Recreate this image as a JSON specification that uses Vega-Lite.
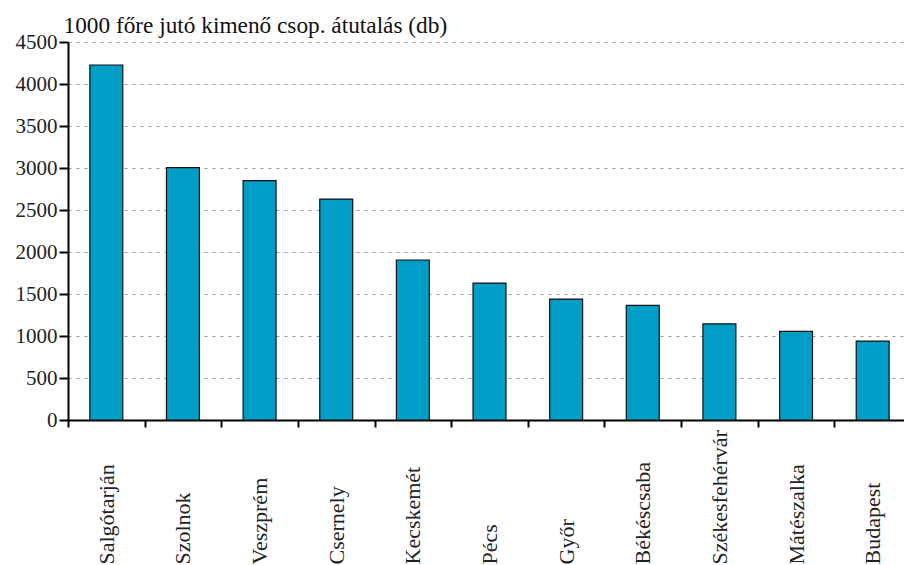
{
  "$schema": "https://vega.github.io/schema/vega-lite/v6.json",
  "width": 843,
  "height": 378,
  "autosize": {"type": "none"},
  "padding": {"left": 68, "top": 42, "right": 0, "bottom": 145},
  "background": "white",
  "config": {
    "view": {"stroke": null},
    "font": "Liberation Serif",
    "axis": {"labelFont": "Liberation Serif", "titleFont": "Liberation Serif"}
  },
  "data": {
    "values": [
      {"city": "Salgótarján", "value": 4226},
      {"city": "Szolnok", "value": 3005},
      {"city": "Veszprém", "value": 2850},
      {"city": "Csernely", "value": 2630},
      {"city": "Kecskemét", "value": 1905},
      {"city": "Pécs", "value": 1630},
      {"city": "Győr", "value": 1440},
      {"city": "Békéscsaba", "value": 1365},
      {"city": "Székesfehérvár", "value": 1145},
      {"city": "Mátészalka", "value": 1055},
      {"city": "Budapest", "value": 940}
    ]
  },
  "mark": {"type": "bar", "width": {"band": 0.43}, "fill": "#009ec6", "stroke": "#111111", "strokeWidth": 1.2},
  "encoding": {
    "x": {
      "field": "city",
      "type": "nominal",
      "sort": null,
      "scale": {"paddingInner": 0, "paddingOuter": 0},
      "axis": {
        "title": null,
        "labelAngle": -90,
        "labelAlign": "left",
        "labelBaseline": "middle",
        "labelPadding": 137,
        "labelOverlap": false,
        "tickBand": "extent",
        "tickSize": 7,
        "tickWidth": 2,
        "tickColor": "black",
        "domainColor": "black",
        "domainWidth": 2,
        "labelFont": "Liberation Serif",
        "labelFontSize": 22,
        "labelColor": "#222222"
      }
    },
    "y": {
      "field": "value",
      "type": "quantitative",
      "scale": {"domain": [0, 4500]},
      "axis": {
        "values": [0, 500, 1000, 1500, 2000, 2500, 3000, 3500, 4000, 4500],
        "format": "d",
        "title": "1000 főre jutó kimenő csop. átutalás (db)",
        "titleAngle": 0,
        "titleX": -5,
        "titleY": -10,
        "titleAlign": "left",
        "titleBaseline": "alphabetic",
        "titleFont": "Liberation Serif",
        "titleFontSize": 23.3,
        "titleFontWeight": "normal",
        "titleColor": "#111111",
        "gridColor": "#999999",
        "gridDash": [3, 5],
        "gridWidth": 1,
        "domainColor": "black",
        "domainWidth": 2,
        "tickColor": "black",
        "tickWidth": 2,
        "tickSize": 9,
        "labelPadding": 2,
        "labelFont": "Liberation Serif",
        "labelFontSize": 21,
        "labelColor": "#222222"
      }
    }
  }
}
